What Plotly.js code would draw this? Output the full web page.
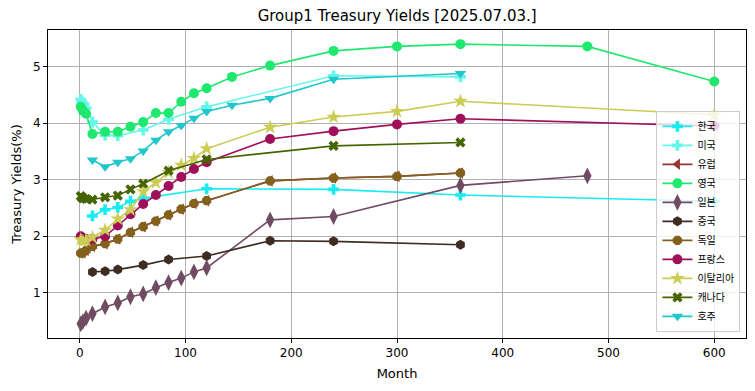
<!DOCTYPE html>
<html>
<head>
<meta charset="utf-8">
<script src="https://cdn.plot.ly/plotly-3.0.1.min.js"></script>
<style>html,body{margin:0;padding:0;background:#fff}#chart{width:755px;height:391px}</style>
</head>
<body>
<div id="chart"></div>
<script>
// Series names
const names = ["한국","미국","유럽","영국","일본","중국","독일","프랑스","이탈리아","캐나다","호주"];

// Korea
const krMonths = [12,24,36,48,60,120,240,360,600];
const krYields = [2.36,2.47,2.51,2.62,2.67,2.84,2.83,2.73,2.62];
// US
const usMonths = [1,2,3,4,6,12,24,36,60,84,120,240,360];
const usYields = [4.42,4.38,4.35,4.33,4.27,4.02,3.79,3.78,3.88,4.07,4.29,4.84,4.82];
// Europe
const euMonths = [1,3,6,12,24,36,48,60,72,84,96,108,120,180,240,300,360];
const euYields = [1.70,1.71,1.75,1.82,1.87,1.95,2.07,2.17,2.27,2.38,2.48,2.58,2.63,2.98,3.03,3.06,3.12];
// UK
const ukMonths = [1,3,6,12,24,36,48,60,72,84,96,108,120,144,180,240,300,360,480,600];
const ukYields = [4.29,4.22,4.17,3.81,3.85,3.85,3.94,4.02,4.18,4.18,4.38,4.53,4.62,4.82,5.02,5.28,5.36,5.40,5.36,4.74];
// Japan
const jpMonths = [1,3,6,12,24,36,48,60,72,84,96,108,120,180,240,360,480];
const jpYields = [0.45,0.49,0.55,0.63,0.75,0.82,0.93,0.98,1.09,1.18,1.26,1.37,1.44,2.29,2.35,2.90,3.07];
// China
const cnMonths = [12,24,36,60,84,120,180,240,360];
const cnYields = [1.37,1.38,1.41,1.49,1.59,1.65,1.92,1.91,1.85];
// Germany
const deMonths = [1,3,6,12,24,36,48,60,72,84,96,108,120,180,240,300,360];
const deYields = [1.70,1.71,1.75,1.82,1.87,1.95,2.07,2.17,2.27,2.38,2.48,2.58,2.63,2.98,3.03,3.06,3.12];
// France
const frMonths = [1,3,6,12,24,36,48,60,72,84,96,108,120,180,240,300,360,600];
const frYields = [2.00,1.97,1.95,1.95,2.00,2.19,2.39,2.57,2.73,2.89,3.05,3.19,3.31,3.72,3.86,3.98,4.08,3.95];
// Italy
const itMonths = [1,3,6,12,24,36,48,60,72,84,96,108,120,180,240,300,360,600];
const itYields = [1.94,1.91,1.93,1.98,2.11,2.31,2.47,2.79,2.95,3.13,3.26,3.38,3.55,3.93,4.11,4.21,4.39,4.15];
// Canada
const caMonths = [1,2,3,6,12,24,36,48,60,84,120,240,360];
const caYields = [2.71,2.69,2.67,2.66,2.65,2.69,2.72,2.83,2.93,3.16,3.36,3.60,3.66];
// Australia
const auMonths = [12,24,36,48,60,72,84,96,108,120,144,180,240,360];
const auYields = [3.35,3.23,3.31,3.37,3.51,3.70,3.85,3.96,4.09,4.21,4.32,4.44,4.78,4.88];

const xTicks = [0,100,200,300,400,500,600];
const yTicks = [1,2,3,4,5];

const seriesX = [krMonths,usMonths,euMonths,ukMonths,jpMonths,cnMonths,deMonths,frMonths,itMonths,caMonths,auMonths];
const seriesY = [krYields,usYields,euYields,ukYields,jpYields,cnYields,deYields,frYields,itYields,caYields,auYields];
const colors = ["#18ecf2","#66f7ec","#993333","#1fe86e","#714b62","#3e2b21","#83601c","#a0105a","#cccc55","#466400","#22c7cc"];
const symbols = ["cross","cross","triangle-left","circle","diamond-tall","hexagon","octagon","circle","star","x","triangle-down"];
const sizes = [9,9,10,10,12,10,10,10,11,9,10];

const traces = names.map((n,i)=>({
  type:"scatter", mode:"lines+markers", name:n,
  x:seriesX[i], y:seriesY[i],
  line:{color:colors[i], width:1.6},
  marker:{color:colors[i], symbol:symbols[i], size:sizes[i], line:{width:0}}
}));

const font = "DejaVu Sans, Noto Sans CJK KR, sans-serif";
const layout = {
  width:755, height:391,
  margin:{l:48, r:9, t:30, b:53},
  paper_bgcolor:"#fff", plot_bgcolor:"#fff",
  font:{family:font, size:12, color:"#000"},
  title:{text:"Group1 Treasury Yields [2025.07.03.]", font:{family:font, size:15, color:"#000"}, x:0.526, xanchor:"center", y:0.96, yanchor:"middle"},
  xaxis:{range:[-30,630], tickvals:xTicks, ticktext:xTicks.map(String), showgrid:true, gridcolor:"#b0b0b0", gridwidth:1,
    zeroline:false, showline:true, mirror:true, linecolor:"#000", linewidth:1, ticks:"outside", ticklen:4, tickcolor:"#000",
    tickfont:{size:12}, title:{text:"Month", font:{size:13}, standoff:9}},
  yaxis:{range:[0.2,5.65], tickvals:yTicks, ticktext:yTicks.map(String), showgrid:true, gridcolor:"#b0b0b0", gridwidth:1,
    zeroline:false, showline:true, mirror:true, linecolor:"#000", linewidth:1, ticks:"outside", ticklen:4, tickcolor:"#000",
    tickfont:{size:12}, title:{text:"Treasury Yields(%)", font:{size:13}, standoff:8}},
  legend:{x:0.992, xanchor:"right", y:0.02, yanchor:"bottom", bgcolor:"rgba(255,255,255,0.8)", bordercolor:"#cccccc", borderwidth:1,
    font:{size:10}, tracegroupgap:0, itemwidth:30},
  showlegend:true
};
Plotly.newPlot("chart", traces, layout, {displayModeBar:false, staticPlot:true});
</script>
</body>
</html>
